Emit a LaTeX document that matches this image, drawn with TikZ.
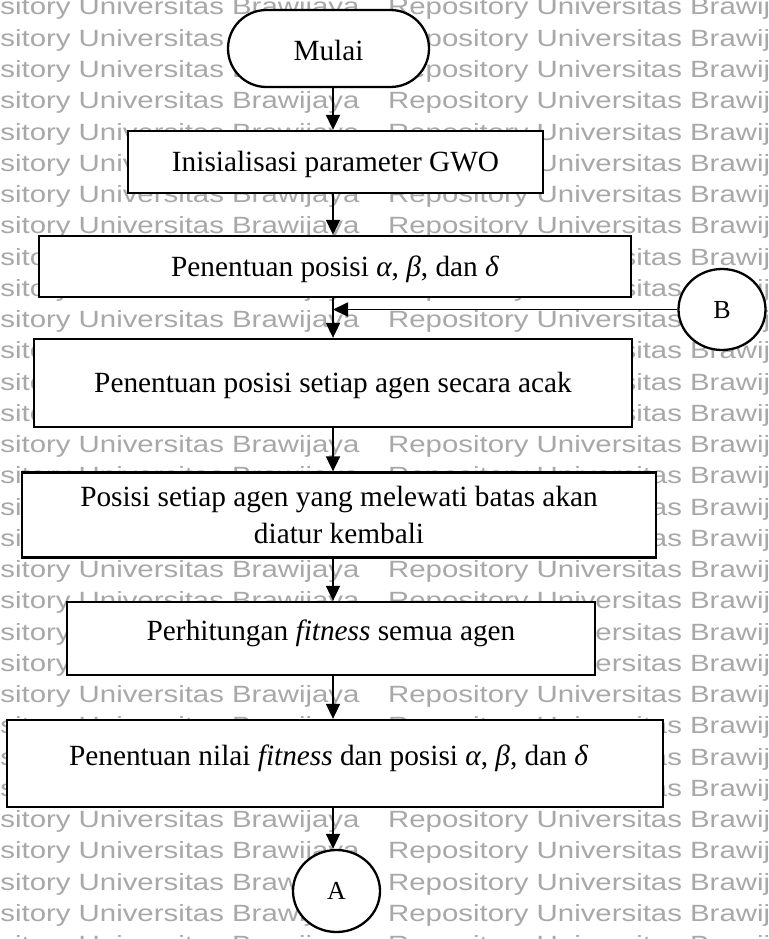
\documentclass[tikz,border=0pt]{standalone}
\usepackage{fontspec}
\usepackage{graphicx}
\setmainfont{Liberation Serif}
\newfontfamily\wmfont{Liberation Sans}
\usetikzlibrary{shapes.misc,shapes.geometric,arrows.meta}
\definecolor{wmgray}{RGB}{168,168,168}
\newcommand\flowfont{\fontsize{29.3}{37}\selectfont}
\newcommand\connfont{\fontsize{26}{30}\selectfont}
\newcommand\wmtext{\scalebox{1.25}[1]{Repository Universitas Brawijaya}}

\begin{document}
\begin{tikzpicture}[x=1pt,y=-1pt,
  wm/.style={anchor=base west, inner sep=0pt, text=wmgray,
    font=\wmfont\fontsize{23.5}{23.5}\selectfont},
  procbox/.style={draw, line width=2.3pt, fill=white, rectangle, inner sep=0pt,
    font=\flowfont, text height=19.5pt, text depth=0pt},
  termbox/.style={draw, line width=2.3pt, fill=white, rounded rectangle,
    inner sep=0pt, font=\flowfont, text height=24pt, text depth=0pt,
    minimum width=201pt, minimum height=77pt},
  connbox/.style={draw, line width=2.3pt, fill=white, ellipse, inner sep=0pt,
    font=\connfont, text height=17pt, text depth=0pt},
  arr/.style={line width=1.8pt, -{Triangle[length=15pt,width=14pt]}}
]
\useasboundingbox (0,0) rectangle (768,939);

% background watermark lines
\begin{scope}
  \clip (0,0) rectangle (768,939);
  \fill[white] (0,0) rectangle (768,939);
  \foreach \k in {0,...,30}{
    \pgfmathsetmacro\yy{15+31.25*\k}
    \node[wm] (wmL\k) at (-70,\yy) {\wmtext};
    \node[wm] (wmR\k) at (388,\yy) {\wmtext};
  }
\end{scope}

% column of the main flow
\coordinate (ax) at (333,0);

\node[termbox] (mulai) at (328.5,48.5) {Mulai};
\node[procbox, minimum width=415pt, minimum height=62pt] (init) at (335.5,162)
  {Inisialisasi parameter GWO};
\node[procbox, minimum width=592pt, minimum height=61pt] (posab) at (335,266.5)
  {Penentuan posisi {\itshape α}, {\itshape β}, dan {\itshape δ}};
\node[procbox, minimum width=598pt, minimum height=88pt] (acak) at (333,383)
  {Penentuan posisi setiap agen secara acak};
\node[draw, line width=2.3pt, fill=white, rectangle, inner sep=0pt, font=\flowfont,
  align=center, minimum width=634pt, minimum height=85pt] (batas) at (339,515)
  {Posisi setiap agen yang melewati batas akan\\diatur kembali};
\node[procbox, text depth=16pt, minimum width=528pt, minimum height=73pt] (fit)
  at (331,638.5) {Perhitungan \textit{fitness} semua agen};
\node[procbox, text depth=16pt, minimum width=656pt, minimum height=87pt] (nilai)
  at (335,763.5)
  {Penentuan nilai \textit{fitness} dan posisi {\itshape α}, {\itshape β}, dan {\itshape δ}\hspace*{13pt}};
\node[connbox, minimum width=87pt, minimum height=81pt] (B) at (722,309.5) {B};
\node[connbox, minimum width=87pt, minimum height=82pt] (A) at (336.5,891) {A};

% connectors
\draw[arr] (mulai.south -| ax) -- (init.north -| ax);
\draw[arr] (init.south -| ax) -- (posab.north -| ax);
\draw[arr] (posab.south -| ax) -- (acak.north -| ax);
\draw[arr] (B.west) -- (B.west -| ax);
\draw[arr] (acak.south -| ax) -- (batas.north -| ax);
\draw[arr] (batas.south -| ax) -- (fit.north -| ax);
\draw[arr] (fit.south -| ax) -- (nilai.north -| ax);
\draw[arr] (nilai.south -| ax) -- (A.north -| ax);
\end{tikzpicture}
\end{document}
